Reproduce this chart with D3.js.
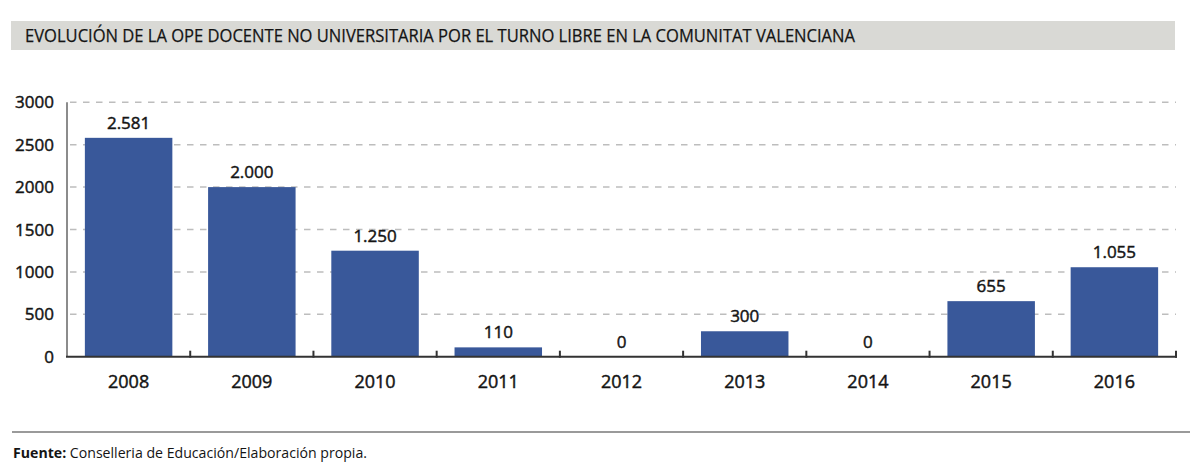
<!DOCTYPE html>
<html><head><meta charset="utf-8">
<script src="https://cdn.jsdelivr.net/npm/d3@7"></script>
<style>
html,body{margin:0;padding:0;background:#fff;}
svg{display:block;font-family:"Open Sans","Noto Sans",sans-serif;}
</style></head>
<body>
<svg id="c" width="1200" height="475"></svg>
<script>
const years = ["2008","2009","2010","2011","2012","2013","2014","2015","2016"];
const values = [2581, 2000, 1250, 110, 0, 300, 0, 655, 1055];
const valueLabels = ["2.581","2.000","1.250","110","0","300","0","655","1.055"];
const yTicks = [0, 500, 1000, 1500, 2000, 2500, 3000];
const titleText = "EVOLUCIÓN DE LA OPE DOCENTE NO UNIVERSITARIA POR EL TURNO LIBRE EN LA COMUNITAT VALENCIANA";
const sourceBold = "Fuente:";
const sourceText = " Conselleria de Educación/Elaboración propia.";

const svg = d3.select("#c");
const x = d3.scaleBand().domain(years).range([67, 1176]).paddingInner(0.29).paddingOuter(0.145);
const y = d3.scaleLinear().domain([0, 3000]).range([356.7, 102.3]);

const ink = "#141414";
function heavy(sel, w) { return sel.attr("fill", ink).attr("stroke", ink).attr("stroke-width", w); }

// title banner
svg.append("rect").attr("x", 11).attr("y", 21).attr("width", 1164).attr("height", 29).attr("fill", "#d9d9d5");
heavy(svg.append("text").attr("x", 25).attr("y", 42).attr("font-size", 18.5), 0.25)
  .attr("textLength", 830).attr("lengthAdjust", "spacingAndGlyphs").text(titleText);

// gridlines
svg.append("g").selectAll("line").data(yTicks.filter(d => d > 0)).join("line")
  .attr("x1", 70).attr("x2", 1176)
  .attr("y1", d => y(d)).attr("y2", d => y(d))
  .attr("stroke", "#bdbdbd").attr("stroke-width", 1.5).attr("stroke-dasharray", "6.5,6.5");

// y tick labels
heavy(svg.append("g").selectAll("text").data(yTicks).join("text")
  .attr("x", 54).attr("y", d => y(d)).attr("dy", "0.36em")
  .attr("text-anchor", "end").attr("font-size", 17), 0.45)
  .text(d => d);

// bars
svg.append("g").selectAll("rect").data(values).join("rect")
  .attr("x", (d, i) => x(years[i])).attr("width", x.bandwidth())
  .attr("y", d => y(d)).attr("height", d => y(0) - y(d))
  .attr("fill", "#39589a");

// value labels
heavy(svg.append("g").selectAll("text").data(values).join("text")
  .attr("x", (d, i) => x(years[i]) + x.bandwidth() / 2)
  .attr("y", d => y(d) - 9)
  .attr("text-anchor", "middle").attr("font-size", 17), 0.45)
  .text((d, i) => valueLabels[i]);

// axes
svg.append("line").attr("x1", 67).attr("x2", 67).attr("y1", y(3000)).attr("y2", y(0))
  .attr("stroke", "#666").attr("stroke-width", 1.5);
svg.append("line").attr("x1", 66).attr("x2", 1177).attr("y1", y(0)).attr("y2", y(0))
  .attr("stroke", "#333").attr("stroke-width", 2);
const step = x.step();
svg.append("g").selectAll("line").data(years).join("line")
  .attr("x1", (d, i) => 67 + (i + 1) * step).attr("x2", (d, i) => 67 + (i + 1) * step)
  .attr("y1", y(0) - 6).attr("y2", y(0) + 1)
  .attr("stroke", "#333").attr("stroke-width", 2);

// x labels
heavy(svg.append("g").selectAll("text").data(years).join("text")
  .attr("x", d => x(d) + x.bandwidth() / 2).attr("y", 388)
  .attr("text-anchor", "middle").attr("font-size", 18), 0.45)
  .text(d => d);

// footer
svg.append("line").attr("x1", 12).attr("x2", 1190).attr("y1", 432).attr("y2", 432)
  .attr("stroke", "#9a9a9a").attr("stroke-width", 2);
const ft = svg.append("text").attr("x", 13).attr("y", 458).attr("font-size", 15).attr("fill", ink)
  .attr("textLength", 354).attr("lengthAdjust", "spacingAndGlyphs");
ft.append("tspan").attr("font-weight", "bold").text(sourceBold);
ft.append("tspan").text(sourceText);
</script>
</body></html>
